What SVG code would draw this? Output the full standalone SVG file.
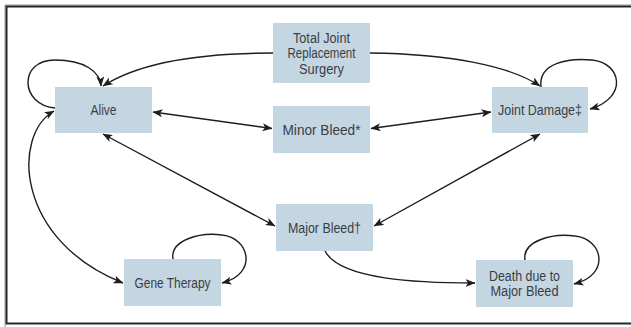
<svg xmlns="http://www.w3.org/2000/svg" width="631" height="327" viewBox="0 0 631 327">
<defs>
<style>
.box{fill:#c4d6e2;stroke:none}
.lbl{font-family:"Liberation Sans",Arial,sans-serif;font-size:14px;fill:#3a3e44;text-anchor:middle}
.c{fill:none;stroke:#1e1e1e;stroke-width:1.4}
.e{marker-end:url(#ah)}
.s{marker-start:url(#ah)}
</style>
<marker id="ah" viewBox="0 0 10 8" refX="9.5" refY="4" markerWidth="10" markerHeight="8" orient="auto-start-reverse" markerUnits="userSpaceOnUse">
<path d="M0,0 L10,4 L0,8 L2.5,4 z" fill="#1e1e1e"/>
</marker>
</defs>
<rect x="0" y="0" width="631" height="327" fill="#ffffff"/>
<path d="M5 650 V5 H640" fill="none" stroke="#9a9a9a" stroke-width="1"/>
<rect x="6.5" y="6.5" width="640" height="317" fill="none" stroke="#262626" stroke-width="2"/>

<g id="connectors">
<path class="c e" d="M273 53 C200 53 140 62 103 86"/>
<path class="c e" d="M370 53 C450 54 510 66 540 86"/>
<path class="c e s" d="M153 112 L272 128.5"/>
<path class="c e s" d="M371 128.5 L491 112"/>
<path class="c e s" d="M103 134 L275 226"/>
<path class="c e s" d="M540 134 L374 226"/>
<path class="c e s" d="M54 111 C12 135 15 240 123 283"/>
<path class="c e" d="M325 251 C340 280 420 283 475 283"/>
<path class="c e" d="M55 108 C20 105 18 60 55 60 C85 60 100 72 101 86"/>
<path class="c e" d="M541 87 C538 62 570 58 592 60 C622 63 628 98 590 109"/>
<path class="c e" d="M173 259 C170 240 200 232 222 235 C250 238 258 274 222 283"/>
<path class="c e" d="M525 260 C522 241 552 233 575 236 C603 239 611 275 574 284"/>
</g>

<g id="tjr">
<rect class="box" x="273" y="23" width="97" height="60"/>
<text class="lbl" x="321.5" y="42.5" textLength="57" lengthAdjust="spacingAndGlyphs">Total Joint</text>
<text class="lbl" x="321.5" y="58" textLength="68" lengthAdjust="spacingAndGlyphs">Replacement</text>
<text class="lbl" x="321.5" y="73.5" textLength="45" lengthAdjust="spacingAndGlyphs">Surgery</text>
</g>
<g id="alive">
<rect class="box" x="55" y="87" width="97" height="46"/>
<text class="lbl" x="103.5" y="115" textLength="26" lengthAdjust="spacingAndGlyphs">Alive</text>
</g>
<g id="minor">
<rect class="box" x="273" y="106" width="97" height="47"/>
<text class="lbl" x="321.5" y="135" textLength="78" lengthAdjust="spacingAndGlyphs">Minor Bleed*</text>
</g>
<g id="joint">
<rect class="box" x="492" y="87" width="96" height="46"/>
<text class="lbl" x="540" y="115" textLength="84" lengthAdjust="spacingAndGlyphs">Joint Damage‡</text>
</g>
<g id="major">
<rect class="box" x="276" y="204" width="97" height="47"/>
<text class="lbl" x="324.5" y="232.5" textLength="73" lengthAdjust="spacingAndGlyphs">Major Bleed†</text>
</g>
<g id="gene">
<rect class="box" x="124" y="259" width="97" height="47"/>
<text class="lbl" x="172.5" y="287.5" textLength="76" lengthAdjust="spacingAndGlyphs">Gene Therapy</text>
</g>
<g id="death">
<rect class="box" x="476" y="260" width="97" height="47"/>
<text class="lbl" x="524.5" y="281" textLength="71" lengthAdjust="spacingAndGlyphs">Death due to</text>
<text class="lbl" x="524.5" y="296" textLength="68" lengthAdjust="spacingAndGlyphs">Major Bleed</text>
</g>
</svg>
